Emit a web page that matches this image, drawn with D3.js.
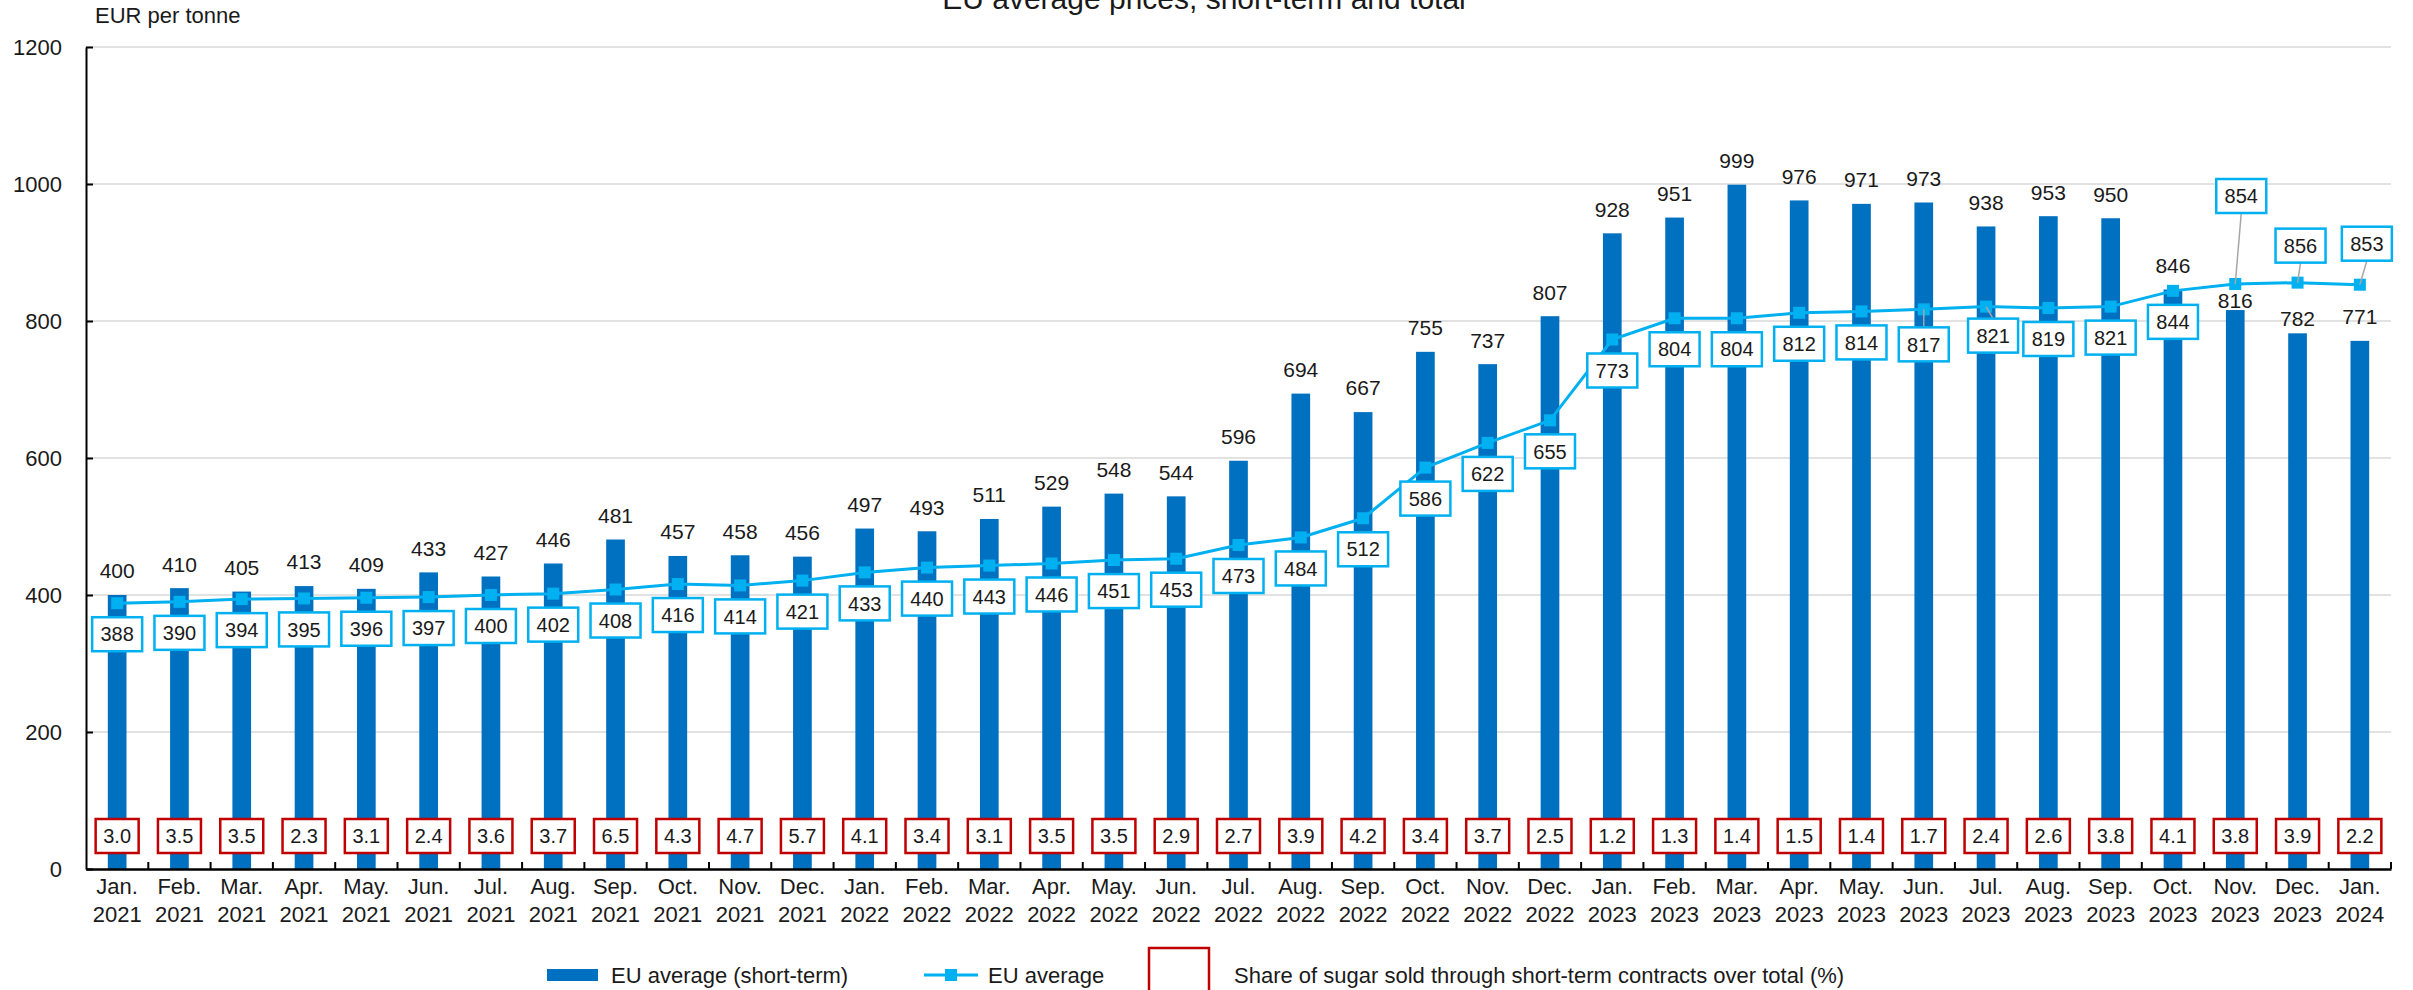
<!DOCTYPE html>
<html>
<head>
<meta charset="utf-8">
<script src="https://cdn.jsdelivr.net/npm/d3@7/dist/d3.min.js"></script>
<style>
  body { margin: 0; background: #ffffff; }
  svg text { font-family: "Liberation Sans", Arial, sans-serif; fill: #1a1a1a; }
</style>
</head>
<body>
<div id="chart"></div>
<script>
// data
const months = ["Jan.", "Feb.", "Mar.", "Apr.", "May.", "Jun.", "Jul.", "Aug.", "Sep.", "Oct.", "Nov.", "Dec.",
  "Jan.", "Feb.", "Mar.", "Apr.", "May.", "Jun.", "Jul.", "Aug.", "Sep.", "Oct.", "Nov.", "Dec.",
  "Jan.", "Feb.", "Mar.", "Apr.", "May.", "Jun.", "Jul.", "Aug.", "Sep.", "Oct.", "Nov.", "Dec.", "Jan."];
const years = ["2021", "2021", "2021", "2021", "2021", "2021", "2021", "2021", "2021", "2021", "2021", "2021",
  "2022", "2022", "2022", "2022", "2022", "2022", "2022", "2022", "2022", "2022", "2022", "2022",
  "2023", "2023", "2023", "2023", "2023", "2023", "2023", "2023", "2023", "2023", "2023", "2023", "2024"];
const shortTerm = [400, 410, 405, 413, 409, 433, 427, 446, 481, 457, 458, 456,
  497, 493, 511, 529, 548, 544, 596, 694, 667, 755, 737, 807,
  928, 951, 999, 976, 971, 973, 938, 953, 950, 846, 816, 782, 771];
const euAverage = [388, 390, 394, 395, 396, 397, 400, 402, 408, 416, 414, 421,
  433, 440, 443, 446, 451, 453, 473, 484, 512, 586, 622, 655,
  773, 804, 804, 812, 814, 817, 821, 819, 821, 844, 854, 856, 853];
const shareShortTerm = [3.0, 3.5, 3.5, 2.3, 3.1, 2.4, 3.6, 3.7, 6.5, 4.3, 4.7, 5.7,
  4.1, 3.4, 3.1, 3.5, 3.5, 2.9, 2.7, 3.9, 4.2, 3.4, 3.7, 2.5,
  1.2, 1.3, 1.4, 1.5, 1.4, 1.7, 2.4, 2.6, 3.8, 4.1, 3.8, 3.9, 2.2];
const yTicks = [0, 200, 400, 600, 800, 1000, 1200];

// labels that were dragged by hand in the original (index -> pixel nudge)
const barLabelNudge = { 34: 15, 35: 9 };
const lineLabelNudge = { 29: [0, 4], 30: [7, -2], 34: [6, -119], 35: [3, -68], 36: [7, -72] };

const barColor = "#0070c0";
const lineColor = "#00b0f0";
const redColor = "#c00000";

// set the dimensions and margins of the graph
const margin = { top: 47, right: 22, bottom: 121, left: 86 },
  width = 2413 - margin.left - margin.right,
  height = 990 - margin.top - margin.bottom;

const root = d3
  .select("#chart")
  .append("svg")
  .attr("width", width + margin.left + margin.right)
  .attr("height", height + margin.top + margin.bottom);

const svg = root.append("g").attr("transform", `translate(${margin.left}, ${margin.top})`);

const idx = d3.range(months.length);
const x = d3.scaleBand().domain(idx).range([0, width]).padding(0);
const y = d3.scaleLinear().domain([0, 1200]).range([height, 0]);
const barW = x.bandwidth() * 0.3;
const cx = (i) => x(i) + x.bandwidth() / 2;

// gridlines
svg
  .selectAll(".grid")
  .data(yTicks.filter((d) => d > 0))
  .join("line")
  .attr("x1", 0)
  .attr("x2", width)
  .attr("y1", (d) => y(d))
  .attr("y2", (d) => y(d))
  .style("stroke", "#d9d9d9")
  .style("stroke-width", 1.5);

// bars
svg
  .selectAll(".bar")
  .data(idx)
  .join("rect")
  .attr("x", (i) => cx(i) - barW / 2)
  .attr("y", (i) => y(shortTerm[i]))
  .attr("width", barW)
  .attr("height", (i) => height - y(shortTerm[i]))
  .style("fill", barColor);

// bar value labels
svg
  .selectAll(".barlabel")
  .data(idx)
  .join("text")
  .attr("x", (i) => cx(i))
  .attr("y", (i) => y(shortTerm[i]) - 24 + (barLabelNudge[i] || 0))
  .attr("dy", "0.35em")
  .attr("text-anchor", "middle")
  .style("font-size", "21px")
  .text((i) => shortTerm[i]);

// Y axis
const yAxis = svg
  .append("g")
  .call(
    d3.axisLeft(y).tickValues(yTicks).tickFormat(d3.format("d"))
      .tickSize(-7).tickSizeOuter(0).tickPadding(24)
  );
yAxis.selectAll("text").style("font-size", "22px").attr("fill", null);
yAxis.selectAll("line, path").style("stroke", "#000").style("stroke-width", 2);

// X axis: ticks sit on the band boundaries and point up
const xAxis = svg
  .append("g")
  .attr("transform", `translate(0, ${height})`)
  .call(d3.axisBottom(x).tickSize(0).tickSizeOuter(0).tickPadding(14).tickFormat(""));
xAxis.select(".domain").style("stroke", "#000").style("stroke-width", 2.5);
xAxis
  .selectAll(".tick text")
  .attr("fill", null)
  .style("font-size", "22px")
  .each(function (i) {
    const t = d3.select(this);
    t.append("tspan").attr("x", 0).attr("dy", "0.5em").text(months[i]);
    t.append("tspan").attr("x", 0).attr("dy", "1.28em").text(years[i]);
  });
svg
  .selectAll(".xtick")
  .data(idx.slice(1).map((i) => x(i)).concat([width]))
  .join("line")
  .attr("x1", (d) => d)
  .attr("x2", (d) => d)
  .attr("y1", height)
  .attr("y2", height - 7)
  .style("stroke", "#000")
  .style("stroke-width", 2);

// EU average line
const line = d3
  .line()
  .x((i) => cx(i))
  .y((i) => y(euAverage[i]));
svg
  .append("path")
  .datum(idx)
  .attr("d", line)
  .style("fill", "none")
  .style("stroke", lineColor)
  .style("stroke-width", 3);

svg
  .selectAll(".marker")
  .data(idx)
  .join("rect")
  .attr("x", (i) => cx(i) - 6)
  .attr("y", (i) => y(euAverage[i]) - 6)
  .attr("width", 12)
  .attr("height", 12)
  .style("fill", lineColor);

// line labels, white boxes below the points
const boxW = 50,
  boxH = 34;
const labelPos = (i) => {
  const n = lineLabelNudge[i] || [0, 0];
  return [cx(i) + n[0], y(euAverage[i]) + 31 + n[1]];
};

// leader lines for the moved labels
svg
  .selectAll(".leader")
  .data(Object.keys(lineLabelNudge).map(Number))
  .join("line")
  .attr("x1", (i) => cx(i))
  .attr("y1", (i) => y(euAverage[i]))
  .attr("x2", (i) => labelPos(i)[0])
  .attr("y2", (i) => {
    const p = labelPos(i);
    return p[1] > y(euAverage[i]) ? p[1] - boxH / 2 : p[1] + boxH / 2;
  })
  .style("stroke", "#a6a6a6")
  .style("stroke-width", 1.5);

const lineLabels = svg.selectAll(".linelabel").data(idx).join("g")
  .attr("transform", (i) => `translate(${labelPos(i)[0]}, ${labelPos(i)[1]})`);
lineLabels
  .append("rect")
  .attr("x", -boxW / 2)
  .attr("y", -boxH / 2)
  .attr("width", boxW)
  .attr("height", boxH)
  .style("fill", "#fff")
  .style("stroke", lineColor)
  .style("stroke-width", 2.5);
lineLabels
  .append("text")
  .attr("text-anchor", "middle")
  .attr("dy", "0.36em")
  .style("font-size", "20px")
  .text((i) => euAverage[i]);

// share of short-term contracts, red boxes near the base
const shareY = height - 33;
const shareLabels = svg.selectAll(".share").data(idx).join("g")
  .attr("transform", (i) => `translate(${cx(i)}, ${shareY})`);
shareLabels
  .append("rect")
  .attr("x", -21.5)
  .attr("y", -17)
  .attr("width", 43)
  .attr("height", 34)
  .style("fill", "#fff")
  .style("stroke", redColor)
  .style("stroke-width", 2.5);
shareLabels
  .append("text")
  .attr("text-anchor", "middle")
  .attr("dy", "0.36em")
  .style("font-size", "20px")
  .text((i) => shareShortTerm[i].toFixed(1));

// title and unit
root
  .append("text")
  .attr("x", 1204)
  .attr("y", 9)
  .attr("text-anchor", "middle")
  .style("font-size", "30px")
  .text("EU average prices, short-term and total");
root
  .append("text")
  .attr("x", 95)
  .attr("y", 23)
  .style("font-size", "22px")
  .text("EUR per tonne");

// legend
const legend = root.append("g");
legend
  .append("rect")
  .attr("x", 547)
  .attr("y", 969)
  .attr("width", 51)
  .attr("height", 12)
  .style("fill", barColor);
legend
  .append("text")
  .attr("x", 611)
  .attr("y", 975)
  .attr("dy", "0.35em")
  .style("font-size", "22px")
  .text("EU average (short-term)");
legend
  .append("line")
  .attr("x1", 924)
  .attr("x2", 978)
  .attr("y1", 975)
  .attr("y2", 975)
  .style("stroke", lineColor)
  .style("stroke-width", 3);
legend
  .append("rect")
  .attr("x", 945)
  .attr("y", 969)
  .attr("width", 12)
  .attr("height", 12)
  .style("fill", lineColor);
legend
  .append("text")
  .attr("x", 988)
  .attr("y", 975)
  .attr("dy", "0.35em")
  .style("font-size", "22px")
  .text("EU average");
legend
  .append("rect")
  .attr("x", 1149)
  .attr("y", 948)
  .attr("width", 60)
  .attr("height", 50)
  .style("fill", "#fff")
  .style("stroke", redColor)
  .style("stroke-width", 2.5);
legend
  .append("text")
  .attr("x", 1234)
  .attr("y", 975)
  .attr("dy", "0.35em")
  .style("font-size", "22px")
  .text("Share of sugar sold through short-term contracts over total (%)");
</script>
</body>
</html>
